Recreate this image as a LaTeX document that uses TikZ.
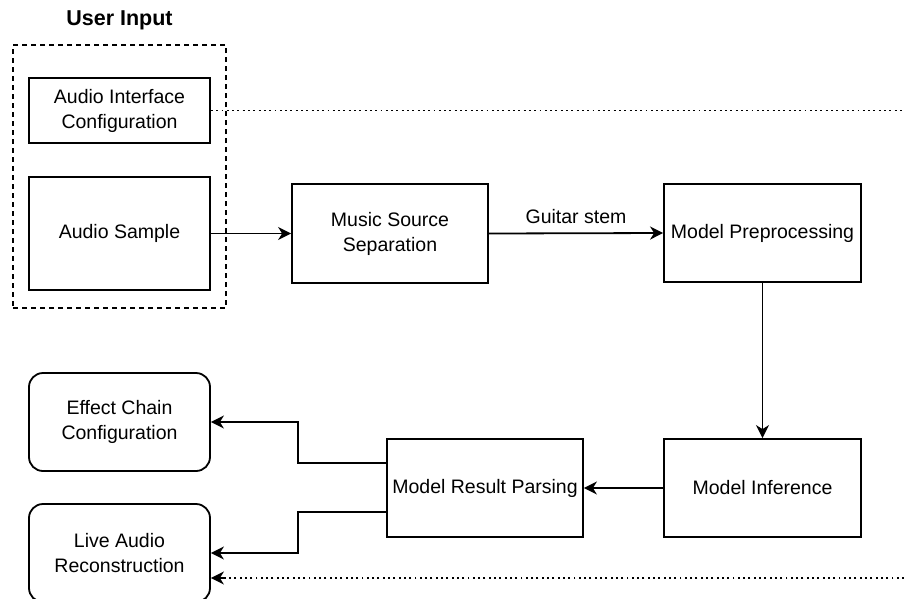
\documentclass[tikz,border=0pt]{standalone}
\usepackage{fontspec}
\setmainfont{Liberation Sans}
\usetikzlibrary{arrows.meta}
\begin{document}
\begin{tikzpicture}[x=1pt,y=-1pt,
  every node/.style={font=\fontsize{19.5}{25}\selectfont, align=center, inner sep=0pt},
  box/.style={draw, line width=1.8pt, rectangle, minimum width=#1},
  box/.default=196pt,
  rbox/.style={draw, line width=1.8pt, rectangle, rounded corners=14pt, minimum width=181pt, minimum height=98pt},
  tip/.style={-{Stealth[length=13pt,width=13pt,inset=4pt]}},
  conn/.style={line width=1.8pt, tip},
  dotline/.style={line width=1.9pt, dash pattern=on 1.9pt off 3.4pt},
  group/.style={draw, line width=1.8pt, dash pattern=on 5pt off 4pt}
]
\useasboundingbox (0,0) rectangle (904,598);

% input group
\node[group, minimum width=213pt, minimum height=263pt] (grp) at (119.5,176.5) {};
\node[font=\bfseries\fontsize{21.5}{26}\selectfont] (ttl) at (119.5,20) {User Input};
\node[box=181pt, minimum height=65pt] (aic) at (119.5,110.5) {Audio Interface\\Configuration};
\node[box=181pt, minimum height=113pt] (as) at (119.5,233.5) {Audio Sample};

% processing chain
\node[box, minimum height=99pt] (mss) at (390,233.5) {Music Source\\Separation};
\node[box=197pt, minimum height=98pt] (mp) at (762.5,233) {Model Preprocessing};
\node[box=197pt, minimum height=98pt] (mi) at (762.5,488) {Model Inference};
\node[box, minimum height=98pt] (mrp) at (485,488) {Model Result Parsing};

% outputs
\node[rbox] (ecc) at (119.5,422) {Effect Chain\\Configuration};
\node[rbox] (lar) at (119.5,553) {Live Audio\\Reconstruction};

% free ends of the dotted links
\coordinate (e1) at (904,110.5);
\coordinate (e2) at (904,578);

% connectors
\draw[conn] (as.east) -- (mss.west);
\draw[conn] (mss.east) -- node[above=9pt] (gs) {Guitar stem} (mp.west);
\draw[conn] (mp.south) -- (mi.north);
\draw[conn] (mi.west) -- (mrp.west -| mrp.east);
\draw[conn] (mrp.west |- 0,463) -- (298,463) -- (298,422) -- (ecc.east);
\draw[conn] (mrp.west |- 0,512) -- (298,512) -- (298,553) -- (lar.east);
\draw[dotline] (aic.east) -- (e1);
\draw[dotline] (e2) -- (lar.east |- e2);
\draw[line width=1.8pt, tip] (lar.east |- e2) ++(14pt,0) -- (lar.east |- e2);
\end{tikzpicture}
\end{document}
